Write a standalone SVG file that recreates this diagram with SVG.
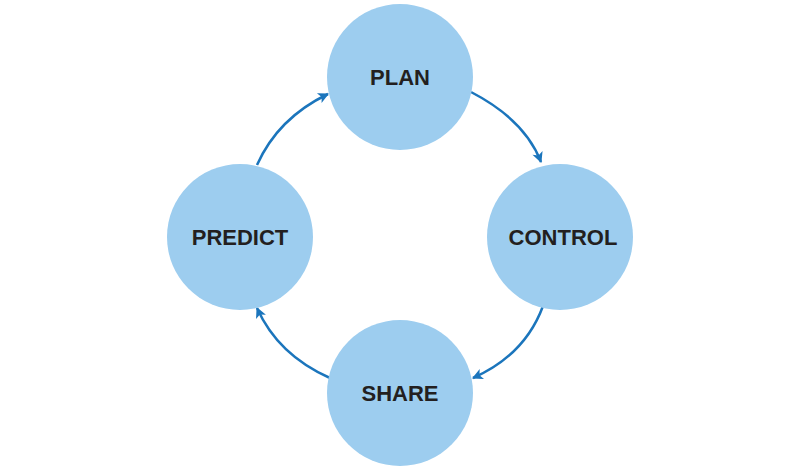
<svg xmlns="http://www.w3.org/2000/svg" width="800" height="468" viewBox="0 0 800 468">
<style>
.n{fill:#9dcdef}
.t{font-family:"Liberation Sans Narrow","Liberation Sans",sans-serif;font-weight:bold;font-size:22px;fill:#231f20;text-anchor:middle;dominant-baseline:central}
.c{fill:none;stroke:#1b75bc;stroke-width:2.5;marker-end:url(#a)}
</style>
<defs><marker id="a" viewBox="0 0 10 10" refX="9" refY="5" markerWidth="6" markerHeight="6" orient="auto" markerUnits="userSpaceOnUse" style="overflow:visible"><path d="M0,0 L10,5 L0,10 L2.5,5 Z" fill="#1b75bc" transform="scale(1.8) translate(-4,-2.2)"/></marker></defs>
<rect width="800" height="468" fill="#fff"/>
<g id="connectors">
<path class="c" d="M471,92 Q525,120 541,162"/>
<path class="c" d="M543,306 Q525,355 473,378"/>
<path class="c" d="M330,378 Q278,355 257,308"/>
<path class="c" d="M257,165 Q278,118 328,94"/>
</g>
<g id="plan"><circle class="n" cx="400" cy="77" r="73"/><text class="t" x="400" y="77">PLAN</text></g>
<g id="control"><circle class="n" cx="560" cy="237" r="73"/><text class="t" x="563" y="237">CONTROL</text></g>
<g id="share"><circle class="n" cx="400" cy="393" r="73"/><text class="t" x="400" y="393">SHARE</text></g>
<g id="predict"><circle class="n" cx="240" cy="237" r="73"/><text class="t" x="240" y="237">PREDICT</text></g>
</svg>
